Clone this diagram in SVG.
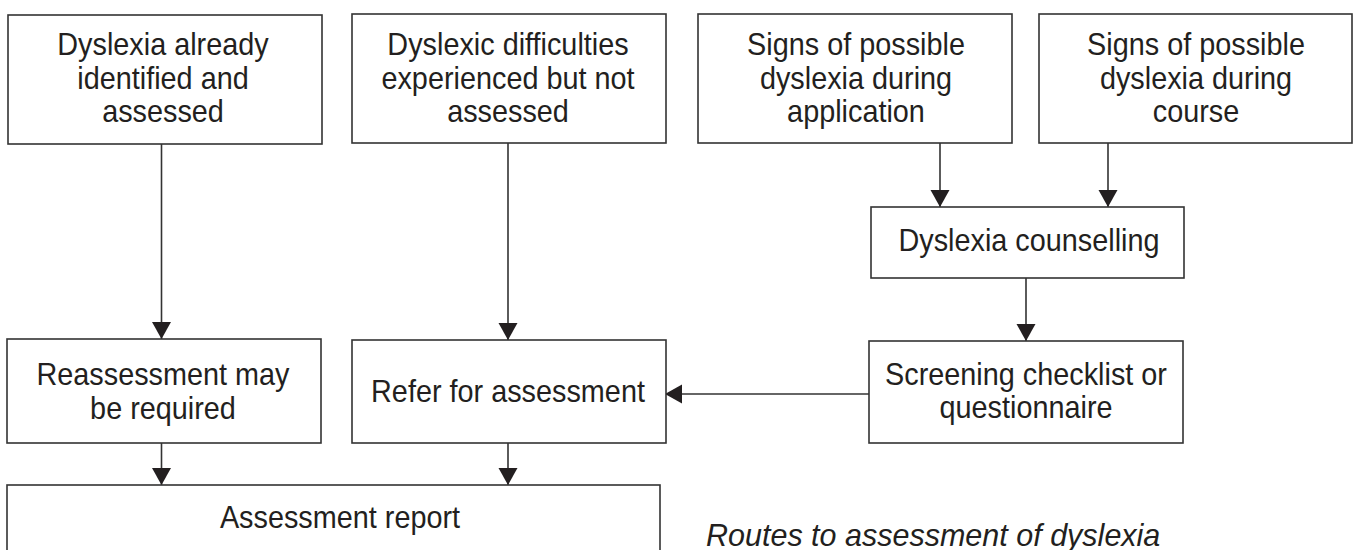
<svg xmlns="http://www.w3.org/2000/svg" width="1359" height="550" viewBox="0 0 1359 550">
<style>
.box{fill:#fff;stroke:#333;stroke-width:1.6}
.t{font-family:"Liberation Sans",Arial,Helvetica,sans-serif;font-size:31px;fill:#231f20;text-anchor:middle}
.c{stroke:#333;stroke-width:1.6;fill:none;marker-end:url(#ah)}
.title{font-family:"Liberation Sans",Arial,Helvetica,sans-serif;font-size:30.5px;font-style:italic;fill:#231f20}
</style>
<defs>
<marker id="ah" markerUnits="userSpaceOnUse" markerWidth="18" markerHeight="20" refX="17" refY="9.5" orient="auto" viewBox="0 0 18 20">
<path d="M0,0 L17,9.5 L0,19 z" fill="#231f20"/>
</marker>
</defs>
<rect width="1359" height="550" fill="#fff"/>
<g id="connectors">
<line class="c" x1="161.5" y1="144" x2="161.5" y2="339"/>
<line class="c" x1="508" y1="143" x2="508" y2="340"/>
<line class="c" x1="940" y1="143" x2="940" y2="207"/>
<line class="c" x1="1108" y1="143" x2="1108" y2="207"/>
<line class="c" x1="1026" y1="278" x2="1026" y2="341"/>
<line class="c" x1="869" y1="394" x2="665" y2="394"/>
<line class="c" x1="161.5" y1="443" x2="161.5" y2="485"/>
<line class="c" x1="508" y1="443" x2="508" y2="485"/>
</g>
<g id="n1">
<rect class="box" x="8" y="15" width="314" height="129"/>
<text class="t" transform="translate(163,55) scale(0.93,1)">Dyslexia already</text>
<text class="t" transform="translate(163,89) scale(0.93,1)">identified and</text>
<text class="t" transform="translate(163,122) scale(0.93,1)">assessed</text>
</g>
<g id="n2">
<rect class="box" x="352" y="14" width="314" height="129"/>
<text class="t" transform="translate(508,55) scale(0.93,1)">Dyslexic difficulties</text>
<text class="t" transform="translate(508,89) scale(0.93,1)">experienced but not</text>
<text class="t" transform="translate(508,122) scale(0.93,1)">assessed</text>
</g>
<g id="n3">
<rect class="box" x="698" y="14" width="314" height="129"/>
<text class="t" transform="translate(856,55) scale(0.93,1)">Signs of possible</text>
<text class="t" transform="translate(856,89) scale(0.93,1)">dyslexia during</text>
<text class="t" transform="translate(856,122) scale(0.93,1)">application</text>
</g>
<g id="n4">
<rect class="box" x="1039" y="14" width="313" height="129"/>
<text class="t" transform="translate(1196,55) scale(0.93,1)">Signs of possible</text>
<text class="t" transform="translate(1196,89) scale(0.93,1)">dyslexia during</text>
<text class="t" transform="translate(1196,122) scale(0.93,1)">course</text>
</g>
<g id="n5">
<rect class="box" x="871" y="207" width="313" height="71"/>
<text class="t" transform="translate(1029,251) scale(0.93,1)">Dyslexia counselling</text>
</g>
<g id="n6">
<rect class="box" x="869" y="341" width="314" height="102"/>
<text class="t" transform="translate(1026,385) scale(0.93,1)">Screening checklist or</text>
<text class="t" transform="translate(1026,418) scale(0.93,1)">questionnaire</text>
</g>
<g id="n7">
<rect class="box" x="7" y="339" width="314" height="104"/>
<text class="t" transform="translate(163,385) scale(0.93,1)">Reassessment may</text>
<text class="t" transform="translate(163,419) scale(0.93,1)">be required</text>
</g>
<g id="n8">
<rect class="box" x="352" y="340" width="314" height="103"/>
<text class="t" transform="translate(508,402) scale(0.93,1)">Refer for assessment</text>
</g>
<g id="n9">
<rect class="box" x="7" y="485" width="653" height="80"/>
<text class="t" transform="translate(340,528) scale(0.93,1)">Assessment report</text>
</g>
<text class="title" x="706" y="546">Routes to assessment of dyslexia</text>
</svg>
